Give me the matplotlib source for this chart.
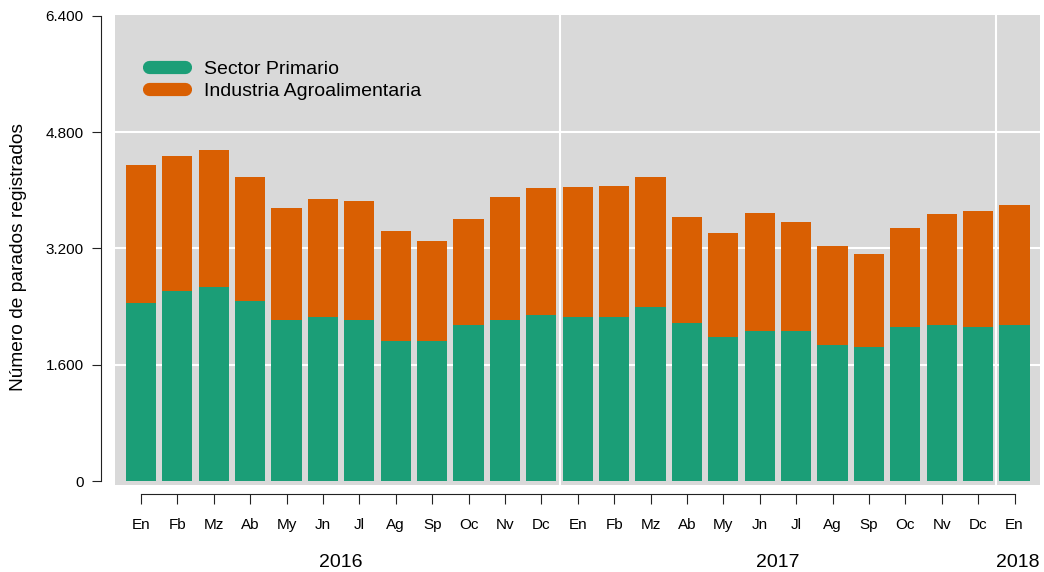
"""
Parados registrados: Sector Primario e Industria Agroalimentaria, barras apiladas.
"""

import matplotlib
matplotlib.use("Agg")
import matplotlib.pyplot as plt
from matplotlib.lines import Line2D

plt.rcParams["font.family"] = ["Liberation Sans", "DejaVu Sans"]

# Datos
meses = ["En", "Fb", "Mz", "Ab", "My", "Jn", "Jl", "Ag", "Sp", "Oc", "Nv", "Dc",
         "En", "Fb", "Mz", "Ab", "My", "Jn", "Jl", "Ag", "Sp", "Oc", "Nv", "Dc",
         "En"]
anios = ["2016", "2017", "2018"]
sector_primario = [2450, 2615, 2670, 2477, 2216, 2257, 2216, 1927, 1927, 2147, 2216, 2285,
                   2257, 2257, 2395, 2174, 1982, 2064, 2064, 1872, 1844, 2119, 2147, 2119,
                   2147]
total = [4349, 4473, 4555, 4184, 3757, 3881, 3854, 3441, 3303, 3606, 3909, 4033,
         4046, 4060, 4184, 3633, 3413, 3688, 3564, 3234, 3124, 3482, 3675, 3716,
         3799]
industria_agro = [t - s for t, s in zip(total, sector_primario)]
y_ticks = [0, 1600, 3200, 4800, 6400]

VERDE = "#1b9e77"
NARANJA = "#d95f02"
FONDO = "#d9d9d9"


def fmt_miles(v):
    return f"{v:,}".replace(",", ".")


def main():
    fig = plt.figure(figsize=(10.44, 5.72), dpi=100)
    ax = fig.add_axes([0.1102, 0.152, 0.886, 0.822])
    ax.set_facecolor(FONDO)

    x = list(range(len(meses)))

    # Rejilla blanca
    for yv in y_ticks[1:-1]:
        ax.axhline(yv, color="white", lw=1.5, zorder=1)
    for xv in [11.5, 23.5]:
        ax.axvline(xv, color="white", lw=1.5, zorder=1)

    ax.bar(x, sector_primario, width=0.83, color=VERDE, zorder=2)
    ax.bar(x, industria_agro, bottom=sector_primario, width=0.83, color=NARANJA, zorder=2)

    ax.set_xlim(-0.71, 24.7)
    ax.set_ylim(-55, 6414)

    # Ejes al estilo R
    for s in ["top", "right"]:
        ax.spines[s].set_visible(False)
    ax.spines["left"].set_position(("outward", 10))
    ax.spines["left"].set_bounds(0, 6400)
    ax.spines["bottom"].set_position(("outward", 6.5))
    ax.spines["bottom"].set_bounds(0, 24)
    for s in ["left", "bottom"]:
        ax.spines[s].set_linewidth(0.8)
        ax.spines[s].set_color("#222222")

    ax.set_yticks(y_ticks)
    ax.set_yticklabels([fmt_miles(v) for v in y_ticks], fontsize=11)
    ax.set_xticks(x)
    ax.set_xticklabels(meses, fontsize=11)
    ax.tick_params(axis="y", length=6.5, width=0.8, color="#222222", pad=6)
    ax.tick_params(axis="x", length=7, width=0.8, color="#222222", pad=10)

    ax.set_ylabel("Número de parados registrados", fontsize=13.8)
    ax.yaxis.set_label_coords(-0.0957, 0.485)

    # Años
    for pos, anio in zip([5.5, 17.5, 24.1], anios):
        ax.text(pos, -0.165, anio, transform=ax.get_xaxis_transform(),
                ha="center", va="center", fontsize=14)

    handles = [
        Line2D([0], [0], color=VERDE, lw=9.5, solid_capstyle="round"),
        Line2D([0], [0], color=NARANJA, lw=9.5, solid_capstyle="round"),
    ]
    ax.legend(handles, ["Sector Primario", "Industria Agroalimentaria"],
              loc="upper left", bbox_to_anchor=(0.0177, 0.94), frameon=False,
              fontsize=14, handlelength=1.86, handletextpad=0.95,
              labelspacing=0.23)

    fig.savefig("out.png", dpi=100)
    plt.close(fig)


if __name__ == "__main__":
    main()
